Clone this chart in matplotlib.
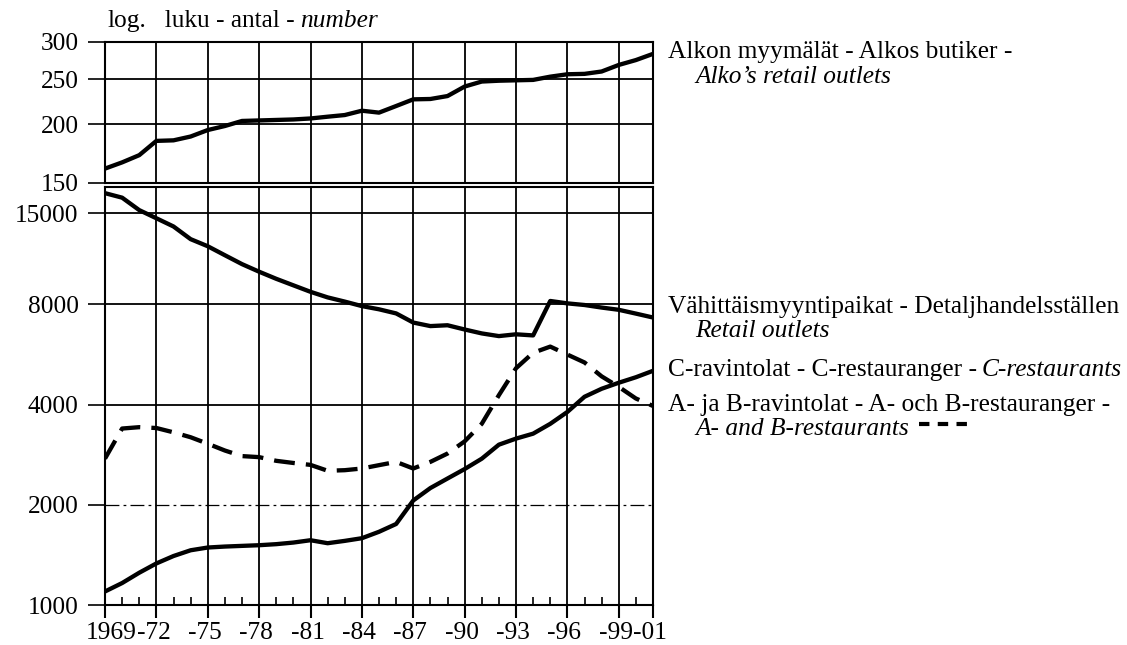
import matplotlib
matplotlib.use("Agg")
import matplotlib.pyplot as plt
import matplotlib.ticker as mticker
from matplotlib.lines import Line2D
from matplotlib.transforms import offset_copy

plt.rcParams['font.family'] = ['Liberation Serif', 'DejaVu Serif']
plt.rcParams['lines.scale_dashes'] = False

# ---------------- data ----------------
years = list(range(1969, 2002))

alko_outlets = [161, 166, 172, 184.5, 185, 188.5, 194.6, 198.5, 203.5, 204, 204.5,
                205, 206, 207.8, 209.5, 214, 212, 219, 226.3, 226.7, 230, 241,
                247, 248, 248.5, 249, 253, 256, 256.5, 259.5, 268, 274.5, 283]

retail_outlets = [17250, 16720, 15340, 14500, 13700, 12550, 11950, 11230, 10560,
                  10020, 9540, 9120, 8720, 8390, 8150, 7900, 7727, 7510, 7050,
                  6880, 6920, 6720, 6540, 6420, 6500, 6450, 8185, 8050, 7960,
                  7820, 7700, 7500, 7300]

ab_restaurants = [2752, 3388, 3420, 3400, 3300, 3190, 3050, 2910, 2800, 2780, 2710,
                  2670, 2635, 2530, 2540, 2570, 2630, 2690, 2570, 2690, 2850, 3100,
                  3500, 4266, 5140, 5720, 5970, 5650, 5350, 4860, 4520, 4170, 3960]

c_restaurants = [1098, 1164, 1250, 1333, 1403, 1460, 1488, 1498, 1505, 1512, 1523,
                 1540, 1565, 1533, 1558, 1587, 1659, 1751, 2060, 2245, 2398, 2560,
                 2750, 3030, 3160, 3270, 3500, 3800, 4220, 4460, 4650, 4830, 5050]

top_yticks = [150, 200, 250, 300]
bot_yticks = [1000, 2000, 4000, 8000, 15000]
x_major = [1969, 1972, 1975, 1978, 1981, 1984, 1987, 1990, 1993, 1996, 1999, 2001]
x_labels = ["1969", "-72", "-75", "-78", "-81", "-84", "-87", "-90", "-93", "-96", "-99", "-01"]

# ---------------- figure ----------------
W, H = 1127, 645
fig = plt.figure(figsize=(W / 100, H / 100), dpi=100)


def px_ax(l, t, r, b):
    return [l / W, 1 - b / H, (r - l) / W, (b - t) / H]


ax_top = fig.add_axes(px_ax(105, 42, 653, 183))
ax_bot = fig.add_axes(px_ax(105, 187, 653, 605))

FS = 18.3
TFS = 18.3
LW = 3.1
GRID_LW = 1.3

for ax in (ax_top, ax_bot):
    ax.set_yscale('log')
    ax.set_xlim(1969, 2001)
    for sp in ax.spines.values():
        sp.set_linewidth(1.5)
    ax.yaxis.set_minor_locator(mticker.NullLocator())
    ax.yaxis.set_minor_formatter(mticker.NullFormatter())
    ax.tick_params(axis='y', which='major', direction='out', length=12.5, width=1.2,
                   labelsize=TFS, pad=6.5)
    for xv in x_major[1:-1]:
        ax.axvline(xv, color='black', lw=GRID_LW, zorder=1)

# top panel
ax_top.set_ylim(150, 300)
ax_top.set_yticks(top_yticks)
ax_top.set_yticklabels([str(v) for v in top_yticks])
ax_top.set_xticks([])
for v in top_yticks[1:-1]:
    ax_top.axhline(v, color='black', lw=GRID_LW, zorder=1)
ax_top.plot(years, alko_outlets, color='black', lw=LW, solid_joinstyle='round', zorder=3)

# bottom panel
ax_bot.set_ylim(1000, 18000)
ax_bot.set_yticks(bot_yticks)
ax_bot.set_yticklabels([str(v) for v in bot_yticks])
for v in bot_yticks[1:]:
    if v == 2000:
        ax_bot.axhline(v, color='black', lw=0.9, ls=(0, (10, 3, 2, 3)), zorder=1)
    else:
        ax_bot.axhline(v, color='black', lw=GRID_LW, zorder=1)

ax_bot.set_xticks(x_major)
ax_bot.set_xticklabels([])
minor_years = [y for y in years if y not in x_major]
ax_bot.set_xticks(minor_years, minor=True)
ax_bot.tick_params(axis='x', which='major', direction='out', length=9, width=1.5)
ax_bot.tick_params(axis='x', which='minor', direction='in', length=6, width=1.2)

ax_bot.plot(years, retail_outlets, color='black', lw=LW, solid_joinstyle='round', zorder=3)
ax_bot.plot(years, c_restaurants, color='black', lw=LW, solid_joinstyle='round', zorder=3)
ax_bot.plot(years, ab_restaurants, color='black', lw=LW, ls=(0, (15, 8)), zorder=3)

# x labels
label_dx = {"1969": 6}
for xv, lab in zip(x_major, x_labels):
    dx = label_dx.get(lab, -3)
    tr = offset_copy(ax_bot.get_xaxis_transform(), fig=fig, x=dx, y=-17, units='dots')
    ax_bot.text(xv, 0, lab, transform=tr, ha='center', va='top', fontsize=TFS)

# ---------------- texts ----------------
fig.canvas.draw()
renderer = fig.canvas.get_renderer()


def seq_text(x_px, y_px, parts, size=FS, gap=5):
    x = x_px
    for s, style in parts:
        t = fig.text(x / W, 1 - y_px / H, s, fontsize=size, style=style,
                     ha='left', va='baseline')
        bb = t.get_window_extent(renderer)
        x = x + bb.width + gap
    return x


# header
seq_text(107, 27, [("log.", 'normal'), ("  luku - antal -", 'normal'), ("number", 'italic')], gap=6)

LX = 668
IX = 695
seq_text(LX, 58, [("Alkon myymälät - Alkos butiker -", 'normal')])
seq_text(IX, 83, [("Alko’s retail outlets", 'italic')])
seq_text(LX, 313, [("Vähittäismyyntipaikat - Detaljhandelsställen", 'normal')])
seq_text(IX, 337, [("Retail outlets", 'italic')])
seq_text(LX, 376, [("C-ravintolat - C-restauranger -", 'normal'), ("C-restaurants", 'italic')])
seq_text(LX, 411, [("A- ja B-ravintolat - A- och B-restauranger -", 'normal')])
xe = seq_text(IX, 435, [("A- and B-restaurants", 'italic')], gap=10)
fig.add_artist(Line2D([xe / W, (xe + 48) / W], [1 - 424 / H, 1 - 424 / H],
                      transform=fig.transFigure, color='black', lw=3.0,
                      ls=(0, (7.5, 6))))

fig.savefig("out.png", dpi=100)
